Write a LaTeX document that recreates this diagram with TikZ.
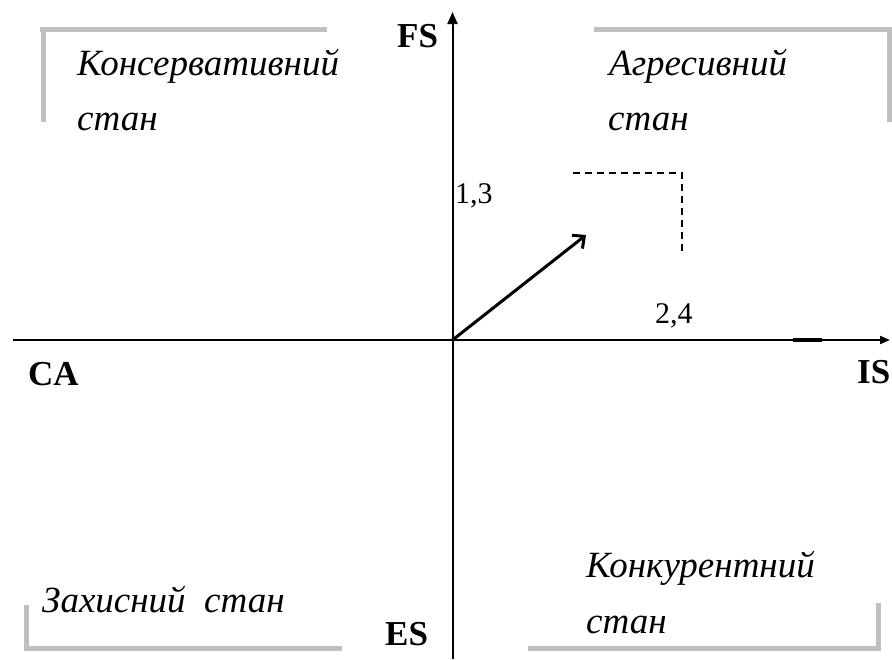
\documentclass[tikz,border=0pt]{standalone}
\usepackage{fontspec}
\setmainfont{Liberation Serif}
\usetikzlibrary{arrows.meta}
\tikzset{
  quad/.style={anchor=base west, inner sep=0pt, font=\fontsize{37}{37}\selectfont\itshape},
  axlabel/.style={anchor=base west, inner sep=0pt, font=\fontsize{35}{35}\selectfont\bfseries},
  numlabel/.style={anchor=base west, inner sep=0pt, font=\fontsize{30}{30}\selectfont},
  bracket/.style={draw=black!25, line width=5pt},
  axis/.style={line width=2pt},
}
\begin{document}
\begin{tikzpicture}[x=1pt,y=-1pt]
\useasboundingbox (0,0) rectangle (892,659);
% coordinates
\coordinate (O) at (452.5,340);
\coordinate (ytop) at (452.5,12);
\coordinate (ybot) at (452.5,659);
\coordinate (xleft) at (13,340);
\coordinate (xmid) at (82,340);
\coordinate (xright) at (890,340);
\coordinate (vtip) at (586,235);
\coordinate (d1) at (573,173);
\coordinate (d2) at (682,173);
\coordinate (d3) at (682,252);
% brackets
\draw[bracket] (40,29) -- (327,29);
\draw[bracket] (43,27) -- (43,122);
\draw[bracket] (594,29) -- (892,29);
\draw[bracket] (889.5,27) -- (889.5,122);
\draw[bracket] (26,605) -- (26,650);
\draw[bracket] (23.5,648) -- (342,648);
\draw[bracket] (878,603) -- (878,650);
\draw[bracket] (528,648) -- (880.5,648);
% axes
\draw[line width=1.2pt] (xleft) -- (xmid);
\draw[axis,-{Triangle[length=10pt,width=8pt]}] (xmid) -- (xright);
\draw[line width=3.5pt] (793,340) -- (822,340);
\draw[axis,-{Triangle[length=12pt,width=10pt]}] (ybot) -- (ytop);
% vector
\draw[line width=3pt,-{Straight Barb[length=9pt,width=17pt]}] (O) -- (vtip);
% dashed corner
\draw[line width=1.6pt, dash pattern=on 7pt off 5pt] (d1) -- (d2) -- (d3);
% labels
\node[axlabel] (fs) at (397,47) {FS};
\node[axlabel] (ca) at (28,385) {CA};
\node[axlabel] (is) at (857,383) {IS};
\node[axlabel] (es) at (385,645) {ES};
\node[numlabel] (n13) at (455,203) {1,3};
\node[numlabel] (n24) at (655,323) {2,4};
\node[quad] (k1) at (77,75) {Консервативний};
\node[quad] (k2) at (77,130) {стан};
\node[quad] (a1) at (609,75) {Агресивний};
\node[quad] (a2) at (608,130) {стан};
\node[quad] (z1) at (42,612) {Захисний\ \ стан};
\node[quad] (c1) at (586,577) {Конкурентний};
\node[quad] (c2) at (586,633) {стан};
\end{tikzpicture}
\end{document}
